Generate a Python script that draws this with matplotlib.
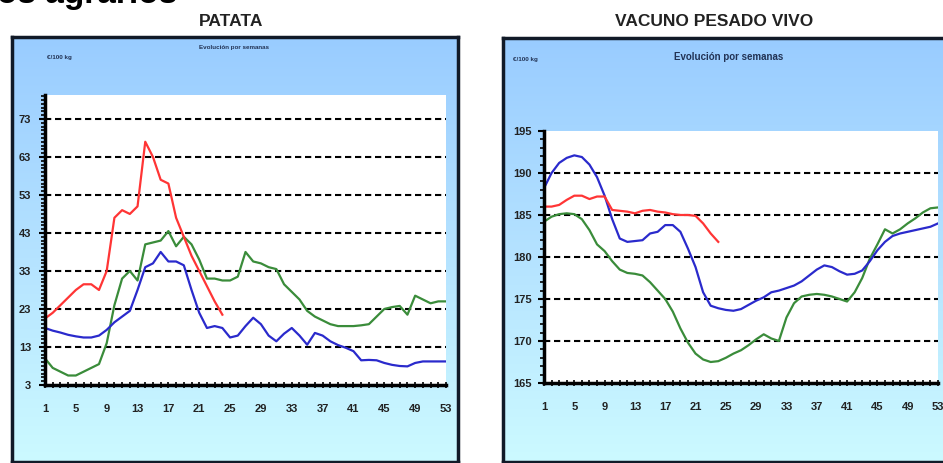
import numpy as np
import matplotlib
matplotlib.use("Agg")
import matplotlib.pyplot as plt
from matplotlib.colors import LinearSegmentedColormap

plt.rcParams['font.family'] = ['Liberation Sans', 'DejaVu Sans']

# ---------------- data ----------------
weeks = list(range(1, 54))
week_ticks = [1, 5, 9, 13, 17, 21, 25, 29, 33, 37, 41, 45, 49, 53]

patata_ticks = [3, 13, 23, 33, 43, 53, 63, 73]
patata_red = [20.5, 22, 24, 26, 28, 29.5, 29.5, 28, 33, 47, 49, 48, 50, 67,
              63, 57, 56, 47, 42, 37, 33, 29, 25, 21.5]
patata_blue = [18, 17.3, 16.8, 16.2, 15.8, 15.5, 15.5, 16, 17.5, 19.5, 21, 22.5,
               28, 34, 35, 38, 35.5, 35.5, 34.5, 28, 22, 18, 18.5, 18, 15.5, 16,
               18.5, 20.7, 19, 16, 14.5, 16.5, 18, 16, 13.6, 16.7, 16, 14.5, 13.5,
               12.8, 11.9, 9.5, 9.6, 9.5, 8.8, 8.3, 8, 7.9, 8.8, 9.2, 9.2, 9.2, 9.2]
patata_green = [10, 7.5, 6.5, 5.5, 5.5, 6.5, 7.5, 8.5, 14, 24, 31, 33, 30.5, 40,
                40.5, 41, 43.5, 39.5, 42, 40, 36, 31, 31, 30.5, 30.5, 31.5, 38,
                35.5, 35, 34, 33.5, 29.5, 27.5, 25.5, 22.5, 21, 20, 19, 18.5, 18.5,
                18.5, 18.7, 19, 21, 23, 23.5, 23.8, 21.5, 26.5, 25.5, 24.5, 25, 25]

vacuno_ticks = [165, 170, 175, 180, 185, 190, 195]
vacuno_red = [186, 186, 186.2, 186.8, 187.3, 187.3, 186.9, 187.2, 187.2, 185.6,
              185.5, 185.4, 185.2, 185.5, 185.6, 185.4, 185.3, 185.1, 185, 185,
              184.9, 184, 182.8, 181.8]
vacuno_blue = [188.2, 190, 191.2, 191.8, 192.1, 191.9, 191, 189.5, 187.3, 184.5,
               182.2, 181.8, 181.9, 182, 182.8, 183, 183.8, 183.8, 183, 181,
               178.8, 175.8, 174.2, 173.9, 173.7, 173.6, 173.8, 174.3, 174.8,
               175.2, 175.8, 176, 176.3, 176.6, 177.1, 177.8, 178.5, 179, 178.8,
               178.3, 177.9, 178, 178.4, 179.5, 180.8, 181.8, 182.5, 182.8, 183,
               183.2, 183.4, 183.6, 184]
vacuno_green = [184.2, 184.8, 185.1, 185.2, 185.1, 184.5, 183.2, 181.5, 180.7,
                179.5, 178.5, 178.1, 178, 177.8, 177, 176, 175, 173.5, 171.5,
                169.8, 168.5, 167.8, 167.5, 167.6, 168, 168.5, 168.9, 169.5,
                170.2, 170.8, 170.3, 170, 172.8, 174.5, 175.3, 175.5, 175.6,
                175.5, 175.3, 175, 174.7, 175.8, 177.5, 179.8, 181.5, 183.3,
                182.8, 183.3, 184, 184.6, 185.3, 185.8, 185.9]

# ---------------- layout helpers ----------------
W, H = 943, 463
fig = plt.figure(figsize=(W / 100, H / 100), dpi=100)
fig.patch.set_facecolor('white')


def rect(x0, y0, x1, y1):
    return [x0 / W, 1 - y1 / H, (x1 - x0) / W, (y1 - y0) / H]


def fx(px):
    return px / W


def fy(py):
    return 1 - py / H


cmap = LinearSegmentedColormap.from_list('bg', ['#99CCFF', '#B4E2FF', '#CCFAFF'])
grad = np.linspace(0, 1, 256).reshape(-1, 1)


def draw_box(x0, y0, x1, y1):
    bax = fig.add_axes(rect(x0, y0, x1, y1), zorder=0)
    bax.imshow(grad, cmap=cmap, aspect='auto', extent=[0, 1, 0, 1], origin='upper')
    bax.set_xticks([])
    bax.set_yticks([])
    for s in bax.spines.values():
        s.set_linewidth(2.5)
        s.set_color('#111a28')
    return bax


def draw_plot(pos, ylim, yticks, series, labelpad):
    ax = fig.add_axes(pos, zorder=2)
    ax.set_facecolor('white')
    for vals, col in series:
        ax.plot(weeks[:len(vals)], vals, color=col, lw=1.6, solid_joinstyle='round')
    ax.set_xlim(1, 53)
    ax.set_ylim(*ylim)
    for t in yticks[1:]:
        if t < ylim[1] - 0.5:
            ax.axhline(t, color='black', lw=1.5, ls=(0, (3, 1.8)), zorder=1)
    ax.set_yticks(yticks)
    ax.set_yticks(np.arange(ylim[0], ylim[1] + 0.01, 1), minor=True)
    ax.set_xticks(week_ticks)
    ax.set_xticks(weeks, minor=True)
    ax.tick_params(axis='y', which='major', length=4, width=1.5, direction='out',
                   labelsize=8, pad=labelpad, labelcolor='#222222')
    ax.tick_params(axis='y', which='minor', length=3, width=1.2, direction='out')
    ax.tick_params(axis='x', which='major', length=4, width=1.2, direction='inout',
                   labelsize=8, pad=12, labelcolor='#222222')
    ax.tick_params(axis='x', which='minor', length=4, width=1.2, direction='inout')
    for lab in ax.get_xticklabels() + ax.get_yticklabels():
        lab.set_fontweight('bold')
    ax.spines['top'].set_visible(False)
    ax.spines['right'].set_visible(False)
    ax.spines['left'].set_linewidth(2.5)
    ax.spines['bottom'].set_linewidth(2.5)
    return ax


RED, BLUE, GREEN = '#FF3535', '#2A2ACC', '#3A8C3A'

# Left panel: PATATA
draw_box(12, 37, 458, 462)
draw_plot(rect(45, 95, 446, 385), (3, 79.3), patata_ticks,
          [(patata_green, GREEN), (patata_blue, BLUE), (patata_red, RED)], 6)

# Right panel: VACUNO PESADO VIVO (cropped on the right)
draw_box(503, 38, 960, 462)
draw_plot(rect(544, 131, 938, 383), (165, 195), vacuno_ticks,
          [(vacuno_green, GREEN), (vacuno_blue, BLUE), (vacuno_red, RED)], 5)

# Titles and texts
fig.text(fx(-3), fy(3), 'os agrarios', fontsize=24, fontweight='bold',
         ha='left', va='baseline', color='black')
fig.text(fx(231), fy(21), 'PATATA', fontsize=12.5, fontweight='bold',
         ha='center', va='center', color='#222222')
fig.text(fx(714), fy(22), 'VACUNO PESADO VIVO', fontsize=12.5, fontweight='bold',
         ha='center', va='center', color='#222222')
fig.text(fx(47), fy(57), '€/100 kg', fontsize=4.5, fontweight='bold',
         ha='left', va='center', color='#223355', zorder=5)
fig.text(fx(234), fy(48), 'Evolución por semanas', fontsize=4.5, fontweight='bold',
         ha='center', va='center', color='#223355', zorder=5)
fig.text(fx(513), fy(60), '€/100 kg', fontsize=4.5, fontweight='bold',
         ha='left', va='center', color='#223355', zorder=5)
fig.text(fx(729), fy(57), 'Evolución por semanas', fontsize=7, fontweight='bold',
         ha='center', va='center', color='#223355', zorder=5)

fig.savefig('out.png', dpi=100)
